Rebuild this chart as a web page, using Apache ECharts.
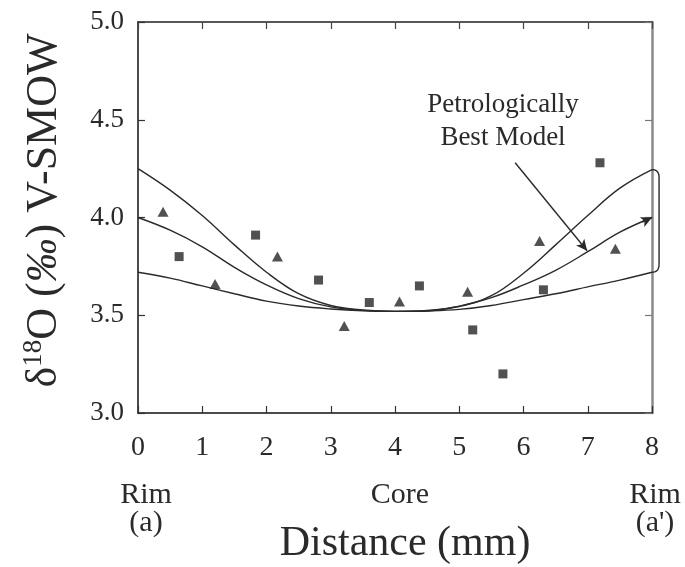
<!DOCTYPE html>
<html>
<head>
<meta charset="utf-8">
<script src="https://cdn.jsdelivr.net/npm/echarts@6/dist/echarts.min.js"></script>
<style>html,body{margin:0;padding:0;background:#fff}#c{width:685px;height:567px}</style>
</head>
<body>
<div id="c"></div>
<script>
// ---- data ----
const xTicks = [0, 1, 2, 3, 4, 5, 6, 7, 8];
const yTicks = [3.0, 3.5, 4.0, 4.5, 5.0];

const squaresX = [0.64, 1.83, 2.81, 3.60, 4.38, 5.21, 5.68, 6.31, 7.19];
const squaresY = [3.80, 3.91, 3.68, 3.565, 3.65, 3.425, 3.20, 3.63, 4.28];

const trianglesX = [0.39, 1.20, 2.17, 3.21, 4.07, 5.13, 6.25, 7.43];
const trianglesY = [4.03, 3.66, 3.80, 3.445, 3.57, 3.62, 3.88, 3.84];

const modelX      = [0, 0.5, 1.0, 1.5, 2.0, 2.5, 3.0, 3.5, 4.0, 4.5, 5.0, 5.5, 6.0, 6.5, 7.0, 7.5, 8.0];
const modelUpper  = [4.25, 4.14, 4.01, 3.86, 3.72, 3.61, 3.55, 3.527, 3.52, 3.525, 3.545, 3.60, 3.715, 3.86, 4.01, 4.15, 4.245];
const modelBest   = [4.00, 3.935, 3.85, 3.745, 3.655, 3.585, 3.543, 3.525, 3.52, 3.522, 3.547, 3.59, 3.655, 3.73, 3.825, 3.925, 4.00];
const modelLower  = [3.72, 3.69, 3.65, 3.61, 3.572, 3.547, 3.532, 3.523, 3.52, 3.522, 3.53, 3.55, 3.58, 3.61, 3.645, 3.68, 3.72];

// bracket joining the right ends of the upper and lower model curves
const bracketTop = [8.0, 4.245];
const bracketBottom = [8.0, 3.72];
const bracketReach = 0.11;   // in x units beyond the axis end

// annotation arrow (text -> best model curve)
const noteArrowFrom = [5.87, 4.28];
const noteArrowTo = [6.99, 3.83];
const noteText = ['Petrologically', 'Best Model'];

const zip = (xs, ys) => xs.map((x, i) => [x, ys[i]]);

const INK = '#2a2a2a';
const SERIF = '"Liberation Serif", "Times New Roman", "DejaVu Serif", serif';
const lineStyle = { color: INK, width: 1.4 };

const chart = echarts.init(document.getElementById('c'), null, { renderer: 'canvas' });

const option = {
  backgroundColor: '#fff',
  animation: false,
  textStyle: { fontFamily: SERIF, color: INK },
  grid: { left: 138, right: 33, top: 22, bottom: 154, containLabel: false },
  xAxis: [
    {
      type: 'value', min: 0, max: 8, interval: 1, position: 'bottom',
      axisLine: { onZero: false, lineStyle: { color: '#111', width: 1.5 } },
      axisTick: { inside: true, length: 7, lineStyle: { color: '#333', width: 1.2 } },
      splitLine: { show: false },
      axisLabel: { fontFamily: SERIF, fontSize: 28, color: INK, margin: 21,
        formatter: v => xTicks.includes(v) ? String(v) : '' }
    },
    {
      type: 'value', min: 0, max: 8, interval: 1, position: 'top',
      axisLine: { onZero: false, lineStyle: { color: '#222', width: 1.5 } },
      axisTick: { inside: true, length: 7, lineStyle: { color: '#444', width: 1.2 } },
      splitLine: { show: false }, axisLabel: { show: false }
    }
  ],
  yAxis: [
    {
      type: 'value', min: 3, max: 5, interval: 0.5, position: 'left',
      axisLine: { onZero: false, lineStyle: { color: '#111', width: 1.5 } },
      axisTick: { inside: true, length: 7, lineStyle: { color: '#333', width: 1.2 } },
      splitLine: { show: false },
      axisLabel: { fontFamily: SERIF, fontSize: 27, color: INK, margin: 14,
        formatter: v => yTicks.some(t => Math.abs(t - v) < 1e-9) ? v.toFixed(1) : '' },
      name: '{a|δ}{s|18}{a|O (}{i|‰}{a|) V-SMOW}',
      nameLocation: 'middle', nameGap: 70,
      nameTextStyle: {
        fontFamily: SERIF, color: INK, padding: [0, 0, 0, 14],
        rich: {
          a: { fontFamily: SERIF, fontSize: 44, color: INK, lineHeight: 48 },
          i: { fontFamily: SERIF, fontSize: 44, color: INK, fontStyle: 'italic', lineHeight: 48 },
          s: { fontFamily: SERIF, fontSize: 27, color: INK, verticalAlign: 'top', lineHeight: 48, padding: [0, 0, 16, 0] }
        }
      }
    },
    {
      type: 'value', min: 3, max: 5, interval: 0.5, position: 'right',
      axisLine: { onZero: false, lineStyle: { color: '#8a8a8a', width: 2.5 } },
      axisTick: { inside: true, length: 7, lineStyle: { color: '#777', width: 1.2 } },
      splitLine: { show: false }, axisLabel: { show: false }
    }
  ],
  series: [
    {
      name: 'upper', type: 'line', smooth: 0.4, showSymbol: false,
      data: zip(modelX, modelUpper), lineStyle, z: 3
    },
    {
      name: 'best', type: 'line', smooth: 0.4, showSymbol: false,
      data: zip(modelX, modelBest), lineStyle, z: 3,
      markLine: {
        silent: true, animation: false,
        symbol: ['none', 'arrow'], symbolSize: [8, 11],
        lineStyle: { color: INK, width: 1.4, type: 'solid' },
        label: { show: false },
        data: [
          [{ coord: [7.85, 3.977] }, { coord: [8.0, 4.0] }],
          [{ coord: noteArrowFrom }, { coord: noteArrowTo }]
        ]
      }
    },
    {
      name: 'lower', type: 'line', smooth: 0.4, showSymbol: false,
      data: zip(modelX, modelLower), lineStyle, z: 3
    },
    {
      name: 'squares', type: 'scatter', symbol: 'rect', symbolSize: 9,
      itemStyle: { color: '#262626' }, data: zip(squaresX, squaresY), z: 4
    },
    {
      name: 'triangles', type: 'scatter', symbol: 'triangle', symbolSize: [11, 10],
      itemStyle: { color: '#262626' }, data: zip(trianglesX, trianglesY), z: 4
    }
  ],
  graphic: [
    { type: 'text', x: 503, y: 121, z: 10,
      style: { text: noteText.join('\n'), fontFamily: SERIF, fontSize: 27, lineHeight: 33,
        fill: INK, align: 'center', verticalAlign: 'middle' } },
    { type: 'text', x: 146, y: 495, z: 10,
      style: { text: 'Rim', fontFamily: SERIF, fontSize: 30, fill: INK, align: 'center', verticalAlign: 'middle' } },
    { type: 'text', x: 146, y: 523, z: 10,
      style: { text: '(a)', fontFamily: SERIF, fontSize: 30, fill: INK, align: 'center', verticalAlign: 'middle' } },
    { type: 'text', x: 400, y: 495, z: 10,
      style: { text: 'Core', fontFamily: SERIF, fontSize: 30, fill: INK, align: 'center', verticalAlign: 'middle' } },
    { type: 'text', x: 655, y: 495, z: 10,
      style: { text: 'Rim', fontFamily: SERIF, fontSize: 30, fill: INK, align: 'center', verticalAlign: 'middle' } },
    { type: 'text', x: 655, y: 523, z: 10,
      style: { text: "(a')", fontFamily: SERIF, fontSize: 30, fill: INK, align: 'center', verticalAlign: 'middle' } },
    { type: 'text', x: 405, y: 544, z: 10,
      style: { text: 'Distance (mm)', fontFamily: SERIF, fontSize: 42, fill: INK, align: 'center', verticalAlign: 'middle' } }
  ]
};

chart.setOption(option);

// bracket drawn through the axes' own scale (rounded corners as quadratic curves)
const pTop = chart.convertToPixel({ gridIndex: 0 }, bracketTop);
const pBot = chart.convertToPixel({ gridIndex: 0 }, bracketBottom);
const pReach = chart.convertToPixel({ gridIndex: 0 }, [bracketTop[0] + bracketReach, bracketTop[1]]);
const bx = pReach[0];
const r = 8;
function quad(p0, c, p1, n) {
  const out = [];
  for (let i = 0; i <= n; i++) {
    const t = i / n, u = 1 - t;
    out.push([u * u * p0[0] + 2 * u * t * c[0] + t * t * p1[0],
              u * u * p0[1] + 2 * u * t * c[1] + t * t * p1[1]]);
  }
  return out;
}
const bracketPts = [].concat(
  quad([pTop[0], pTop[1]], [bx, pTop[1]], [bx, pTop[1] + r], 10),
  quad([bx, pBot[1] - r], [bx, pBot[1]], [pBot[0], pBot[1]], 10)
);
chart.setOption({
  graphic: [
    { type: 'polyline', id: 'bracket', z: 5, shape: { points: bracketPts },
      style: { fill: null, stroke: INK, lineWidth: 1.4 } }
  ]
});
</script>
</body>
</html>
